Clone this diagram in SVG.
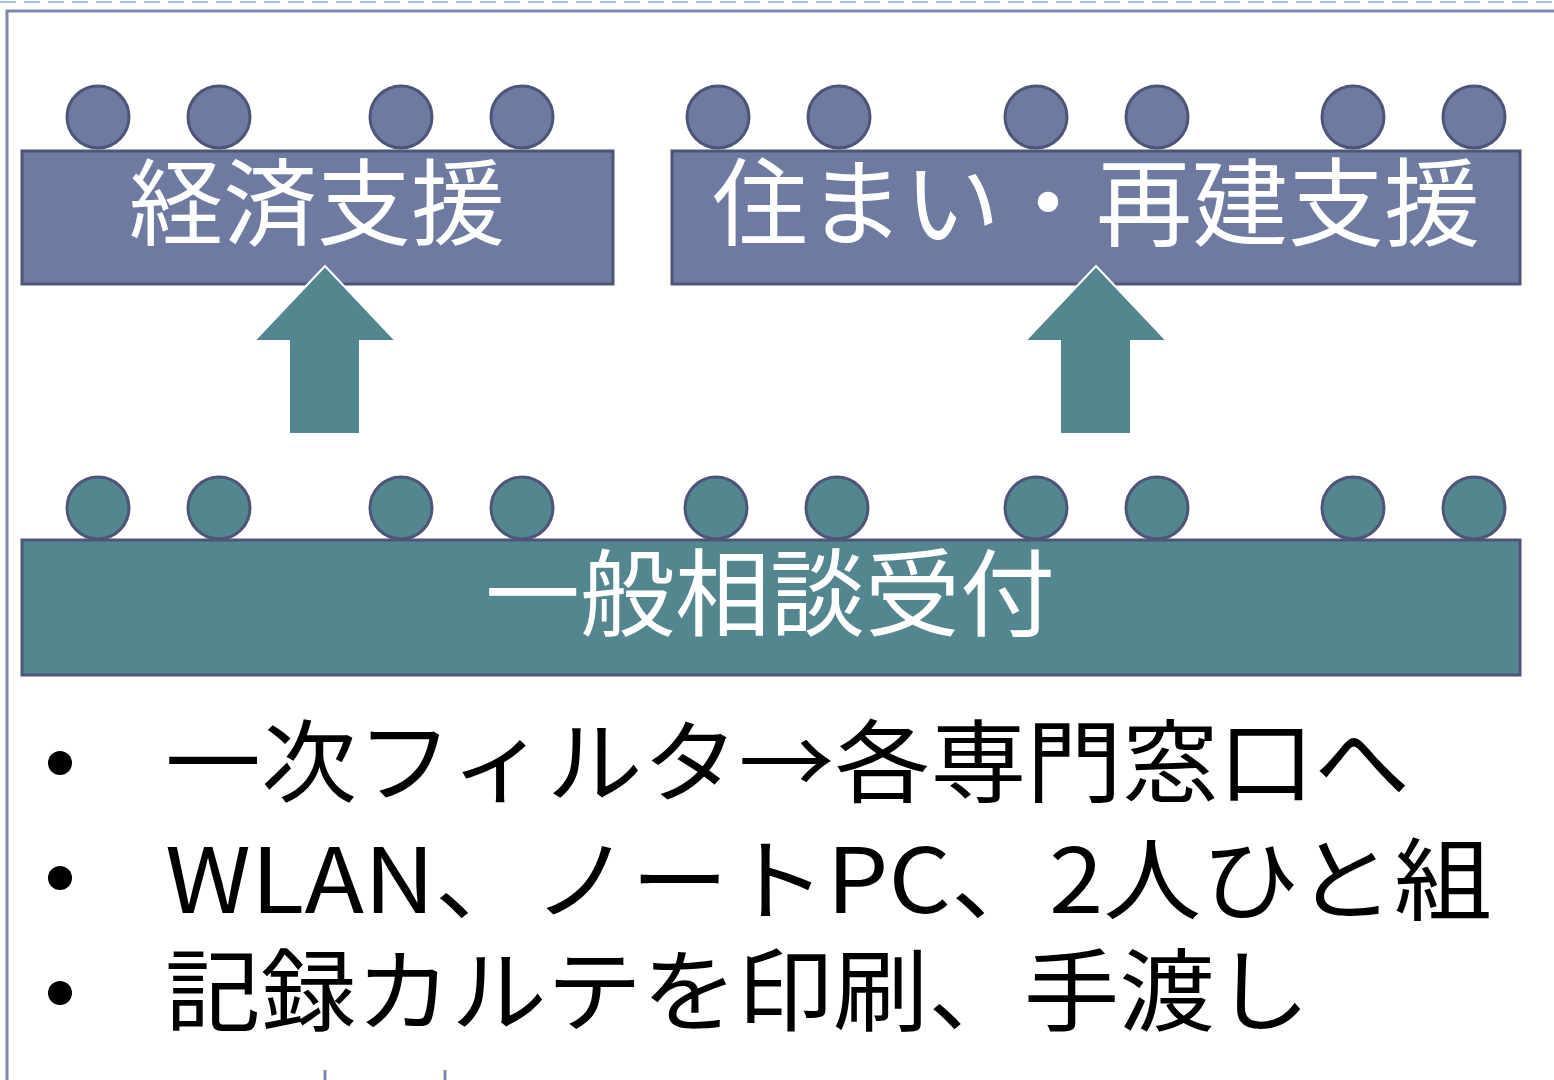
<svg xmlns="http://www.w3.org/2000/svg" width="1554" height="1080" viewBox="0 0 1554 1080">
<style>
.frame{stroke:#7E88AD;stroke-width:3;fill:none}
.dash{stroke:#A9C4DC;stroke-width:2;stroke-dasharray:16 8;fill:none}
.pu{fill:#6F7AA1;stroke:#4E5577;stroke-width:3}
.te{fill:#53868F;stroke:#4E5577;stroke-width:3}
.arrow{fill:#53868F;stroke:#FFFFFF;stroke-width:2}
.lbl{font-family:"Noto Sans CJK JP","Noto Sans",sans-serif;fill:#FFFFFF;text-anchor:middle}
.bul{font-family:"Noto Sans CJK JP","Noto Sans",sans-serif;fill:#000000;font-size:90px}
</style>
<line class="dash" x1="0" y1="2" x2="1554" y2="2"/>
<polyline class="frame" points="7,1080 7,11 1554,11"/>
<line x1="325" y1="1070" x2="325" y2="1080" stroke="#7E88AD" stroke-width="3"/>
<line x1="445" y1="1070" x2="445" y2="1080" stroke="#7E88AD" stroke-width="3"/>

<g id="node-keizai">
<circle class="pu" cx="98" cy="117" r="31"/>
<circle class="pu" cx="219" cy="117" r="31"/>
<circle class="pu" cx="401" cy="117" r="31"/>
<circle class="pu" cx="522" cy="117" r="31"/>
<rect class="pu" x="22" y="151" width="591" height="133"/>
<text class="lbl" x="317" y="238" font-size="94">経済支援</text>
</g>

<g id="node-sumai">
<circle class="pu" cx="718" cy="117" r="31"/>
<circle class="pu" cx="839" cy="117" r="31"/>
<circle class="pu" cx="1036" cy="117" r="31"/>
<circle class="pu" cx="1157" cy="117" r="31"/>
<circle class="pu" cx="1353" cy="117" r="31"/>
<circle class="pu" cx="1474" cy="117" r="31"/>
<rect class="pu" x="672" y="151" width="848" height="133"/>
<text class="lbl" x="1096" y="238" font-size="96">住まい・再建支援</text>
</g>

<g id="node-ippan">
<circle class="te" cx="98" cy="508" r="31"/>
<circle class="te" cx="219" cy="508" r="31"/>
<circle class="te" cx="401" cy="508" r="31"/>
<circle class="te" cx="522" cy="508" r="31"/>
<circle class="te" cx="716" cy="508" r="31"/>
<circle class="te" cx="837" cy="508" r="31"/>
<circle class="te" cx="1036" cy="508" r="31"/>
<circle class="te" cx="1157" cy="508" r="31"/>
<circle class="te" cx="1353" cy="508" r="31"/>
<circle class="te" cx="1474" cy="508" r="31"/>
<rect class="te" x="22" y="540" width="1498" height="135"/>
<text class="lbl" x="770" y="629" font-size="95">一般相談受付</text>
</g>

<g id="connectors">
<polygon class="arrow" points="325,266 396,341 360,341 360,434 289,434 289,341 254,341"/>
<polygon class="arrow" points="1096,266 1167,341 1131,341 1131,434 1060,434 1060,341 1025,341"/>
</g>

<g id="bullets">
<circle cx="60" cy="763" r="12" fill="#000"/>
<circle cx="60" cy="878" r="12" fill="#000"/>
<circle cx="60" cy="993" r="12" fill="#000"/>
<text class="bul" x="165" y="795" textLength="1245" lengthAdjust="spacingAndGlyphs">一次フィルタ→各専門窓口へ</text>
<text class="bul" x="165" y="913" textLength="1327" lengthAdjust="spacingAndGlyphs">WLAN、ノートPC、2人ひと組</text>
<text class="bul" x="165" y="1024" textLength="1145" lengthAdjust="spacingAndGlyphs">記録カルテを印刷、手渡し</text>
</g>
</svg>
